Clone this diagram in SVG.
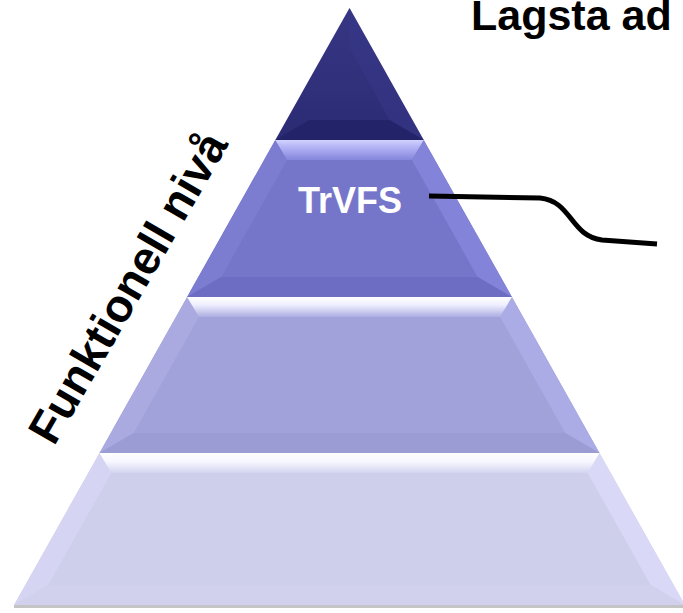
<svg xmlns="http://www.w3.org/2000/svg" width="683" height="613" viewBox="0 0 683 613">
<defs>
<linearGradient id="hl2" x1="0" y1="0" x2="0" y2="1"><stop offset="0" stop-color="#d2d2ff"/><stop offset="0.35" stop-color="#b4b4f6"/><stop offset="1" stop-color="#8585dc"/></linearGradient>
<linearGradient id="hl3" x1="0" y1="0" x2="0" y2="1"><stop offset="0" stop-color="#ffffff"/><stop offset="0.4" stop-color="#eeeeff"/><stop offset="1" stop-color="#adade2"/></linearGradient>
<linearGradient id="hl4" x1="0" y1="0" x2="0" y2="1"><stop offset="0" stop-color="#ffffff"/><stop offset="0.45" stop-color="#f6f6ff"/><stop offset="1" stop-color="#d4d4f0"/></linearGradient>
<linearGradient id="b1" x1="0" y1="0" x2="0" y2="1"><stop offset="0" stop-color="#363684"/><stop offset="1" stop-color="#2b2b74"/></linearGradient>
</defs>
<style>
text{font-family:"Liberation Sans",Arial,sans-serif;font-weight:bold}
.lbl{fill:#000}
.conn{fill:none;stroke:#000;stroke-width:5;stroke-linecap:butt}
</style>
<rect width="683" height="613" fill="#ffffff"/>
<line x1="14" y1="606.5" x2="685" y2="606.5" stroke="#c4c4c4" stroke-width="3"/>
<g id="band1">
<polygon points="349.5,8 423.7,140 275.3,140" fill="url(#b1)"/>
<polygon points="349.5,8 349.5,48 389.4,120 423.7,140" fill="#37378a" opacity="0.5"/>
<polygon points="275.3,140 309.6,120 389.4,120 423.7,140" fill="#23236a"/>
</g>
<g id="band2">
<polygon points="275.3,140 423.7,140 511.9,297 187.1,297" fill="#7575ca"/>
<polygon points="275.3,140 287.1,160 221.4,277 187.1,297" fill="#7c7cd0"/>
<polygon points="423.7,140 511.9,297 477.6,277 411.9,160" fill="#8383da"/>
<polygon points="187.1,297 221.4,277 477.6,277 511.9,297" fill="#6d6dc3"/>
<polygon points="275.3,140 423.7,140 411.9,160 287.1,160" fill="url(#hl2)"/>
</g>
<g id="band3">
<polygon points="187.1,297 511.9,297 599.5,453 99.5,453" fill="#a2a2da"/>
<polygon points="187.1,297 198.9,317 133.7,433 99.5,453" fill="#aaaae0"/>
<polygon points="511.9,297 599.5,453 565.3,433 500.1,317" fill="#ababe6"/>
<polygon points="99.5,453 133.7,433 565.3,433 599.5,453" fill="#9c9cd5"/>
<polygon points="187.1,297 511.9,297 500.1,317 198.9,317" fill="url(#hl3)"/>
</g>
<g id="band4">
<polygon points="99.5,453 599.5,453 684.9,605 14.1,605" fill="#cecfeb"/>
<polygon points="99.5,453 111.3,473 48.3,585 14.1,605" fill="#d5d5f3"/>
<polygon points="599.5,453 684.9,605 650.7,585 587.7,473" fill="#d9d9f7"/>
<polygon points="14.1,605 48.3,585 650.7,585 684.9,605" fill="#d1d1ed"/>
<polygon points="99.5,453 599.5,453 587.7,473 111.3,473" fill="url(#hl4)"/>
</g>
<g id="label-trvfs">
<text x="350" y="213" font-size="36" fill="#ffffff" text-anchor="middle">TrVFS</text>
</g>
<g id="label-funktionell">
<text class="lbl" font-size="46" transform="translate(54,447) rotate(-60)">Funktionell nivå</text>
</g>
<g id="label-lagsta">
<text class="lbl" x="471" y="30" font-size="43">Lagsta ad</text>
</g>
<g id="connectors">
<path class="conn" d="M429,196 L540,198 C572,201 570,236 602,240 L657,244"/>
</g>
</svg>
